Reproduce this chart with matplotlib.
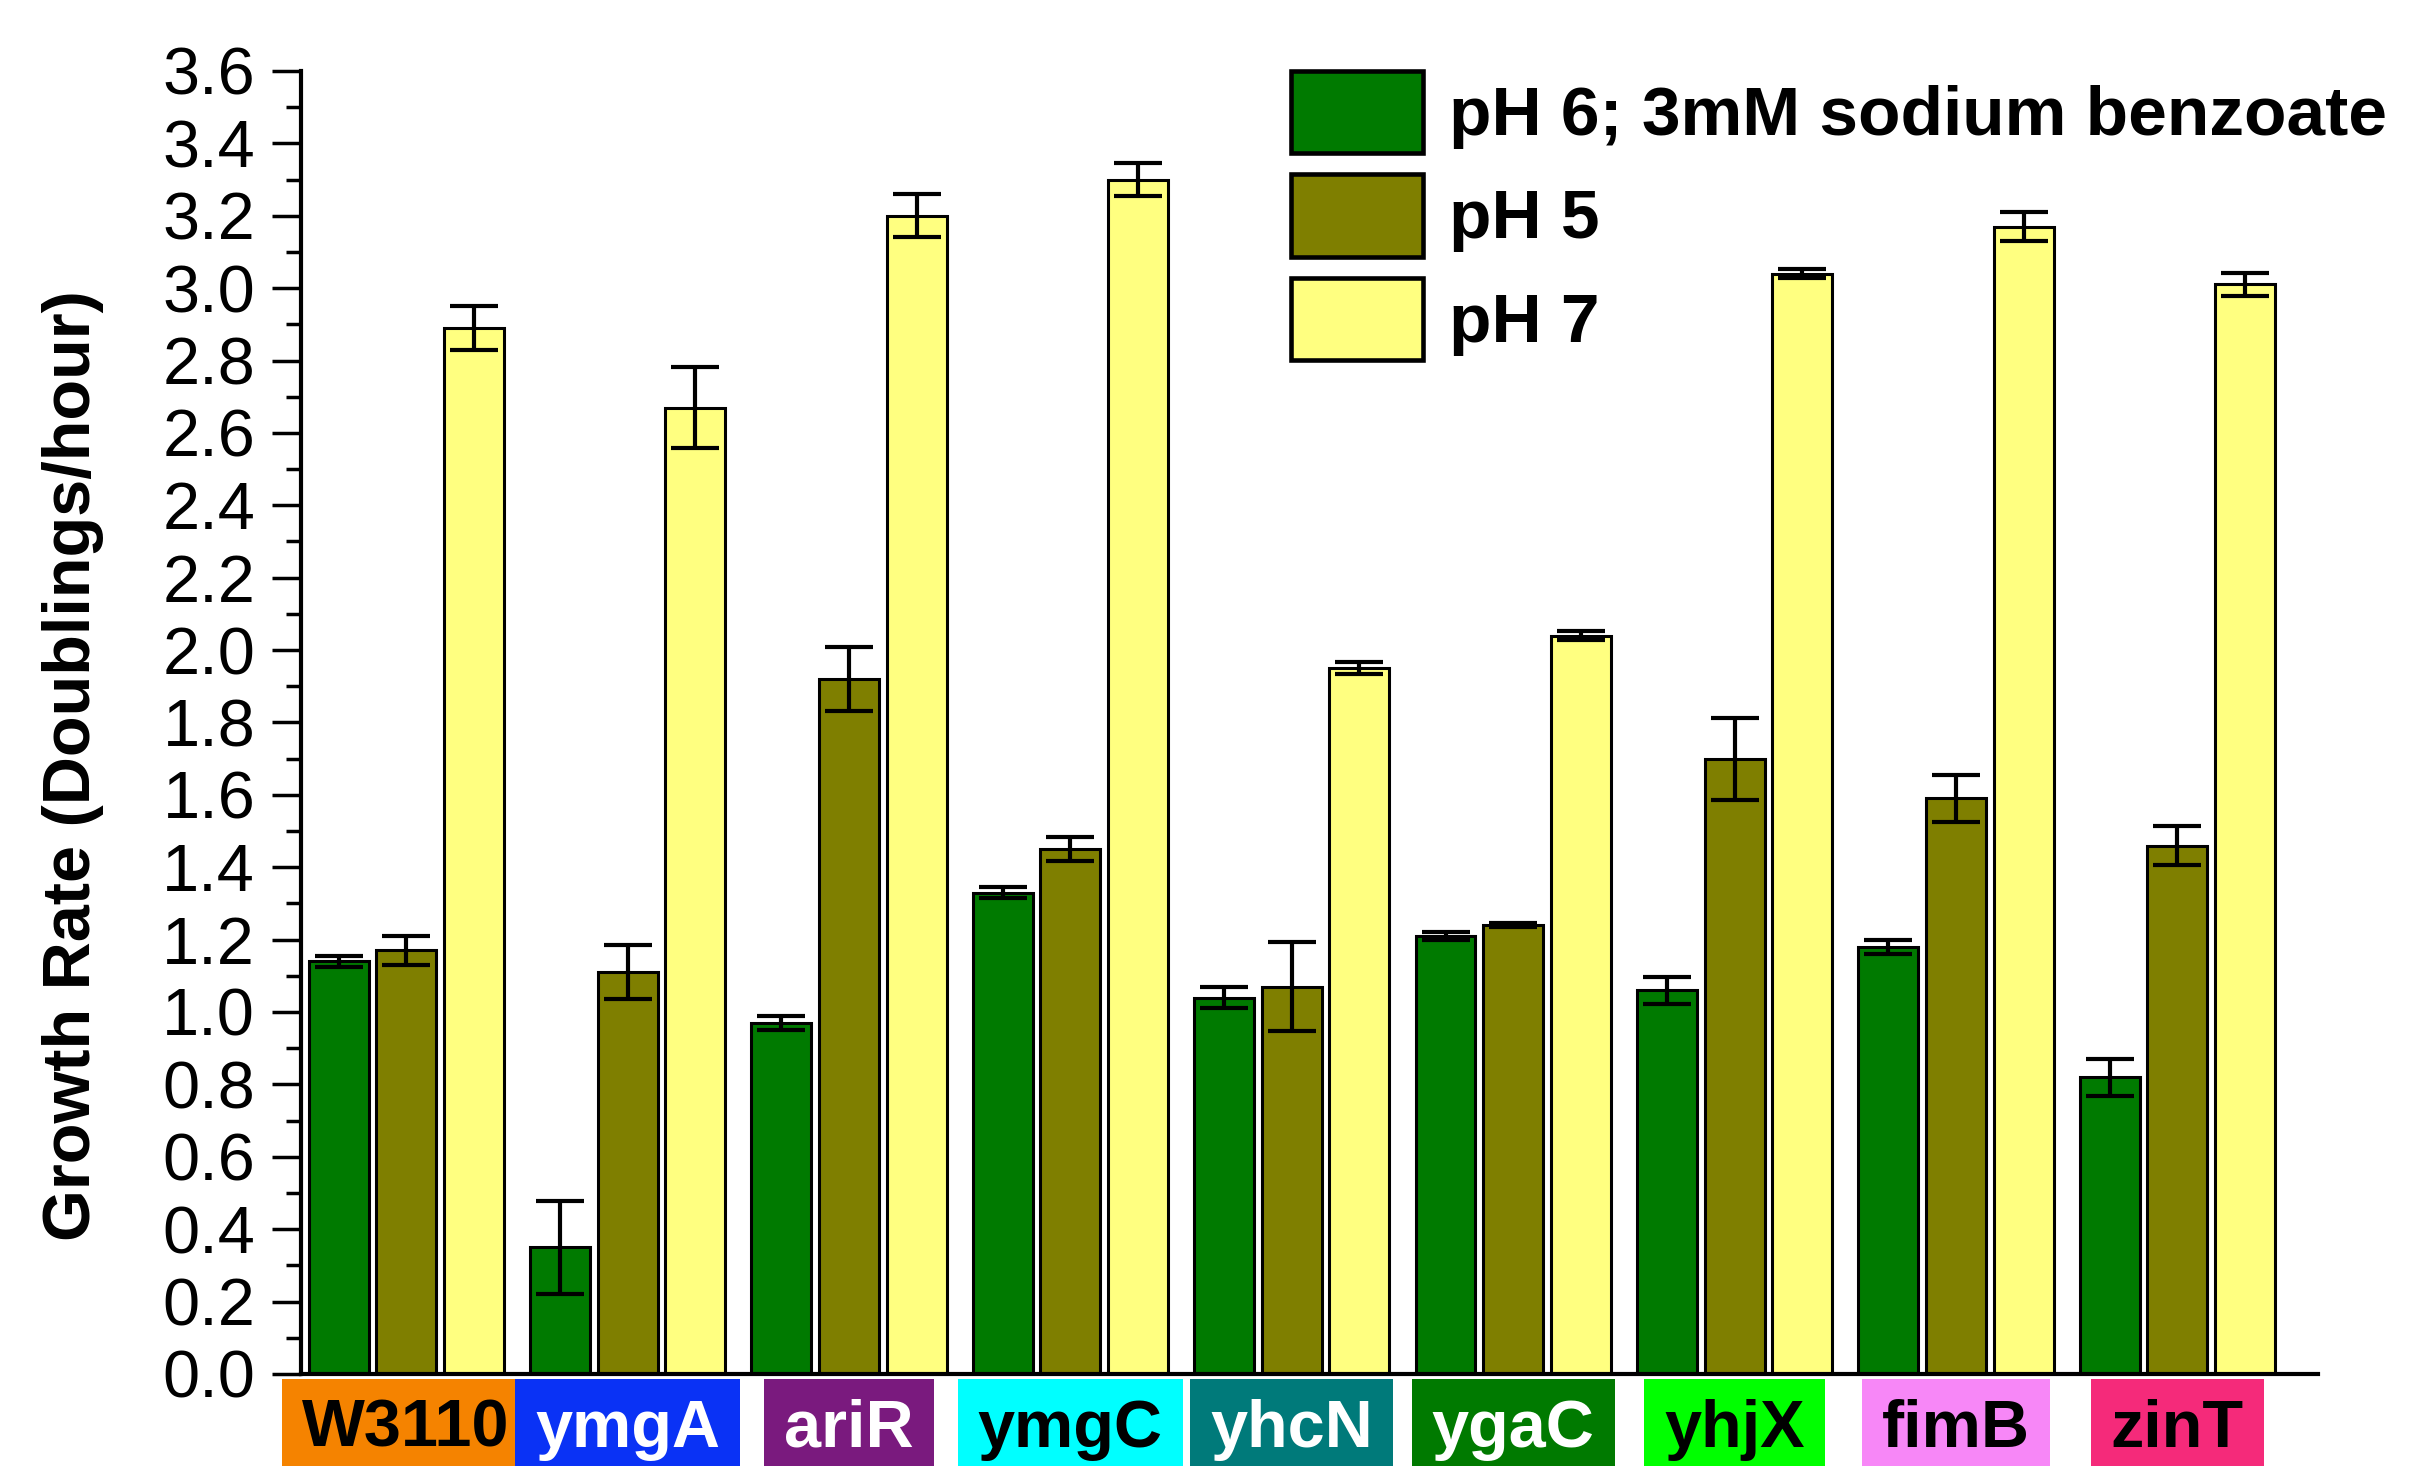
import matplotlib
matplotlib.use('Agg')
import matplotlib.pyplot as plt
import numpy as np
from matplotlib.ticker import MultipleLocator

plt.rcParams['font.family'] = ['Liberation Sans', 'DejaVu Sans']

# strains and their coloured label boxes
strains = ['W3110', 'ymgA', 'ariR', 'ymgC', 'yhcN', 'ygaC', 'yhjX', 'fimB', 'zinT']
box_colors = ['#F58300', '#0A32F5', '#7A1A7E', '#00FFFF', '#007A7A',
              '#007A00', '#00FF00', '#F787F7', '#F52A7A']
text_colors = ['black', 'white', 'white', 'black', 'white',
               'white', 'black', 'black', 'black']

series_names = ['pH 6; 3mM sodium benzoate', 'pH 5', 'pH 7']
series_colors = ['#007A00', '#7F7F00', '#FFFF80']

benzoate = [1.14, 0.35, 0.97, 1.33, 1.04, 1.21, 1.06, 1.18, 0.82]
benzoate_err = [0.015, 0.128, 0.02, 0.015, 0.03, 0.012, 0.038, 0.02, 0.051]
ph5 = [1.17, 1.11, 1.92, 1.45, 1.07, 1.24, 1.70, 1.59, 1.46]
ph5_err = [0.04, 0.074, 0.089, 0.034, 0.123, 0.006, 0.113, 0.066, 0.055]
ph7 = [2.89, 2.67, 3.20, 3.30, 1.95, 2.04, 3.04, 3.17, 3.01]
ph7_err = [0.06, 0.113, 0.06, 0.045, 0.017, 0.012, 0.012, 0.04, 0.032]

values = [benzoate, ph5, ph7]
errors = [benzoate_err, ph5_err, ph7_err]

fig = plt.figure(figsize=(24.12, 14.66), dpi=100)
ax = fig.add_axes([0.1248, 0.0628, 0.8362, 0.8888])

x = np.arange(len(strains))
width = 0.271
step = 0.3056
for k in range(3):
    ax.bar(x + (k - 1) * step, values[k], width, yerr=errors[k],
           color=series_colors[k], edgecolor='black', linewidth=2.2,
           label=series_names[k],
           error_kw=dict(ecolor='black', elinewidth=3, capsize=17, capthick=3))

ax.set_xlim(-0.475, 8.635)
ax.set_ylim(0, 3.6)
ax.yaxis.set_major_locator(MultipleLocator(0.2))
ax.yaxis.set_minor_locator(MultipleLocator(0.1))
ax.yaxis.set_major_formatter(matplotlib.ticker.FormatStrFormatter('%.1f'))
ax.tick_params(axis='y', which='major', length=21, width=2.5, labelsize=48, pad=12)
ax.tick_params(axis='y', which='minor', length=11, width=2.5)
ax.tick_params(axis='x', bottom=False, labelbottom=False)

for side in ['top', 'right']:
    ax.spines[side].set_visible(False)
for side in ['left', 'bottom']:
    ax.spines[side].set_linewidth(3)

ax.set_ylabel('Growth Rate (Doublings/hour)', fontsize=48, fontweight='bold', va='center')
ax.yaxis.set_label_coords(-0.113, 0.467)

# strain names in coloured boxes under the axis
for i, name in enumerate(strains):
    ax.text(x[i], -0.056, name, transform=ax.get_xaxis_transform(),
            ha='center', va='baseline', fontsize=48, fontweight='bold',
            color=text_colors[i], clip_on=False,
            bbox=dict(boxstyle='square,pad=0.3', facecolor=box_colors[i], edgecolor='none'))

leg = ax.legend(loc='upper left', bbox_to_anchor=(0.491, 1.0), frameon=False,
                prop=dict(weight='bold', size=50), handlelength=1.89, handleheight=1.45,
                labelspacing=0.3, handletextpad=0.38, borderpad=0, borderaxespad=0)
for h in leg.legend_handles:
    h.set_linewidth(3.3)

plt.savefig('out.png', dpi=100)
